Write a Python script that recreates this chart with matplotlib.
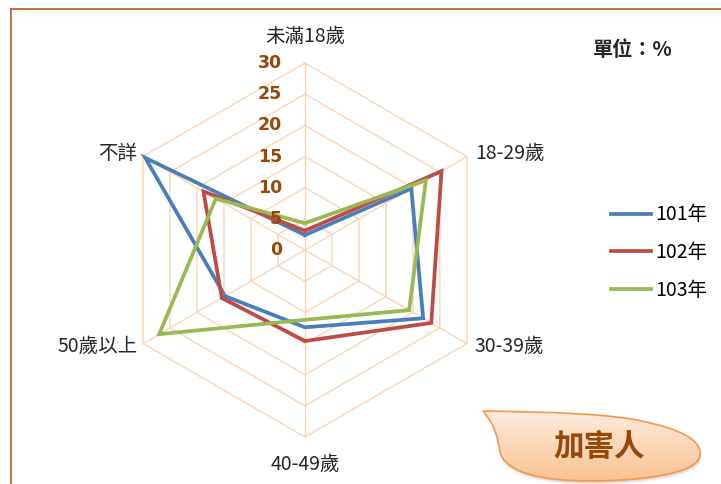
import numpy as np
import matplotlib
matplotlib.use("Agg")
import matplotlib.pyplot as plt
from matplotlib.path import Path
from matplotlib.patches import PathPatch
from matplotlib.lines import Line2D
from matplotlib.transforms import offset_copy

plt.rcParams['font.family'] = ['Noto Sans CJK TC', 'DejaVu Sans']

# 資料
categories = ['未滿18歲', '18-29歲', '30-39歲', '40-49歲', '50歲以上', '不詳']
series_names = ['101年', '102年', '103年']
v101 = [2.4, 19.7, 21.9, 12.4, 14.8, 29.6]
v102 = [3.1, 25.3, 23.4, 14.6, 15.4, 18.8]
v103 = [4.3, 22.4, 19.3, 11.2, 27.0, 16.5]
r_ticks = [0, 5, 10, 15, 20, 25, 30]

colors = ['#4A7EBB', '#BE4B48', '#98B954']
grid_color = '#FCD5B5'
tick_color = '#984807'

fig = plt.figure(figsize=(7.21, 4.84), dpi=100)
fig.patch.set_facecolor('white')

# 雷達圖
ax = fig.add_axes([0.1636, 0.0971, 0.5187, 0.7727], projection='polar')
ax.set_theta_zero_location('N')
ax.set_theta_direction(-1)
ax.set_ylim(0, 30)
ax.grid(False)
ax.spines['polar'].set_visible(False)
ax.set_xticks([])
ax.set_yticks([])
ax.patch.set_alpha(0)

n = len(categories)
theta = np.linspace(0, 2 * np.pi, n, endpoint=False)
theta_c = np.append(theta, theta[0])

# 六角形格線
for r in r_ticks[1:]:
    ax.plot(theta_c, [r] * (n + 1), color=grid_color, lw=1, clip_on=False, zorder=1)
for t in theta:
    ax.plot([t, t], [0, 30], color=grid_color, lw=1, clip_on=False, zorder=1)

# 數列
for vals, name, c in zip([v101, v102, v103], series_names, colors):
    ax.plot(theta_c, vals + vals[:1], color=c, lw=2.7, label=name,
            solid_joinstyle='miter', clip_on=False, zorder=3)

# 刻度數字
tr = offset_copy(ax.transData, fig, x=-23, y=0, units='dots')
for r in r_ticks:
    ax.text(0, r, str(r), transform=tr, ha='right', va='center',
            fontsize=12.5, fontweight='bold', color=tick_color,
            family=['Liberation Sans Narrow', 'DejaVu Sans'], zorder=4)

# 類別標籤
label_off = [(0, 27, 'center'), (8, 3, 'left'), (8, -3, 'left'),
             (0, -27, 'center'), (-5, -3, 'right'), (-6, 3, 'right')]
for t, lab, (dx, dy, ha) in zip(theta, categories, label_off):
    ax.text(t, 30, lab, transform=offset_copy(ax.transData, fig, x=dx, y=dy, units='dots'),
            ha=ha, va='center', fontsize=14, color='#262626')

# 圖例
ax.legend(loc='upper left', bbox_to_anchor=(593 / 721, 1 - 187 / 484),
          bbox_transform=fig.transFigure, frameon=False, fontsize=14,
          handlelength=2.1, handletextpad=0.2, labelspacing=0.85)

fig.text(593 / 721, 1 - 49 / 484, '單位：%', fontsize=14.5, fontweight='bold',
         va='center', ha='left', color='#262626')

# 外框
fig.add_artist(Line2D([11 / 721, 11 / 721], [0, 1 - 9 / 484], color='#C0672B', lw=1.3))
fig.add_artist(Line2D([11 / 721, 1], [1 - 9 / 484, 1 - 9 / 484], color='#C0672B', lw=1.3))

# 說明框「加害人」
ov = fig.add_axes([0, 0, 1, 1])
ov.set_xlim(0, 721)
ov.set_ylim(484, 0)
ov.axis('off')
ov.patch.set_alpha(0)

verts = [(483, 411),
         (540, 412), (615, 413), (650, 423),
         (692, 432), (706, 447), (698, 460),
         (690, 474), (640, 481), (590, 481),
         (540, 481), (505, 472), (500, 452),
         (498, 438), (495, 425), (483, 411),
         (483, 411)]
codes = [Path.MOVETO] + [Path.CURVE4] * 15 + [Path.CLOSEPOLY]
path = Path(verts, codes)

for k, a in zip([4, 3, 2], [0.08, 0.1, 0.12]):
    sh = Path([(x + 1, y + k) for x, y in verts], codes)
    ov.add_patch(PathPatch(sh, facecolor='#808080', edgecolor='none', alpha=a, zorder=1))

grad = np.linspace(0, 1, 100)[:, None]
cmap = matplotlib.colors.LinearSegmentedColormap.from_list('pe', ['#FEEEE2', '#FAC18F'])
im = ov.imshow(grad, cmap=cmap, extent=(480, 710, 483, 408), aspect='auto', zorder=2)
patch = PathPatch(path, facecolor='none', edgecolor='#F79646', lw=1.2, zorder=3)
ov.add_patch(patch)
im.set_clip_path(patch)
ov.text(599, 447, '加害人', fontsize=22, fontweight='bold', color='#984807',
        ha='center', va='center', zorder=4)

fig.savefig('out.png', dpi=100)
